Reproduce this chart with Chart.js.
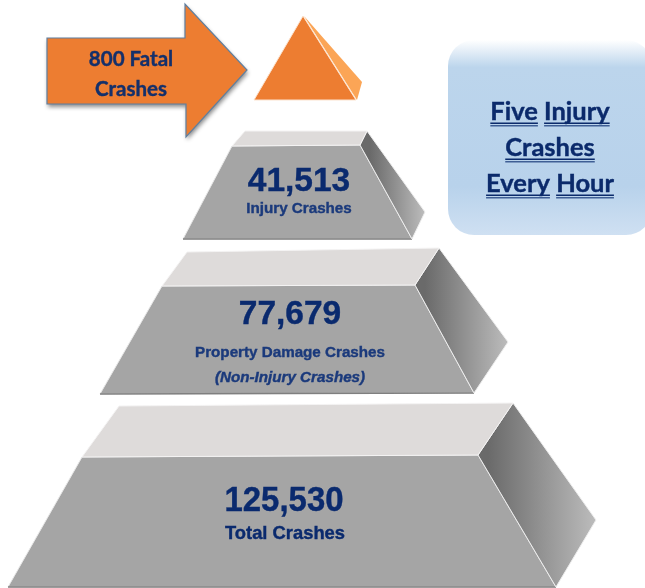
<!DOCTYPE html>
<html>
<head>
<meta charset="utf-8">
<title>Crash pyramid</title>
<script src="https://cdn.jsdelivr.net/npm/chart.js@4"></script>
<style>
    html, body { margin: 0; padding: 0; background: #fff; overflow: hidden; }
    canvas { display: block; }
</style>
</head>
<body>
<canvas id="pyramidChart" width="645" height="588"></canvas>
<script>
// Crash counts, top of the pyramid first
const categories = ['Fatal Crashes', 'Injury Crashes', 'Property Damage Crashes', 'Total Crashes'];
const crashCounts = [800, 41513, 77679, 125530];
const subNote = '(Non-Injury Crashes)';
const calloutLines = [['Five', 'Injury'], ['Crashes'], ['Every', 'Hour']];

// Outlines in picture units, the axes below run 0-645 and 588-0
const arrowOutline = [[47, 38], [185, 38], [185, 4], [247, 70], [186, 137], [186, 104], [47, 104]];
const calloutOutline = [[448, 40], [652, 40], [652, 235], [448, 235]];
const fatalFront = [[303, 16], [356, 100], [254, 100]];
const fatalSide = [[304, 16], [362, 82], [357, 100]];
const injuryTop = [[245, 131], [367, 131], [360, 145], [232, 146]];
const injuryFront = [[232, 146], [360, 145], [412, 239], [183, 239]];
const injurySide = [[367, 131], [425, 212], [412, 239], [360, 145]];
const propertyTop = [[187, 252], [439, 248], [415, 285], [162, 286]];
const propertyFront = [[162, 286], [415, 285], [474, 393], [100, 394]];
const propertySide = [[439, 248], [508, 342], [474, 393], [415, 285]];
const totalTop = [[119, 406], [513, 403], [478, 455], [82, 457]];
const totalFront = [[82, 457], [478, 455], [556, 587], [8, 587]];
const totalSide = [[513, 403], [596, 520], [556, 587], [478, 455]];

const GREY_SIDE = ['#6a6a6a', '#bcbcbc'];

function shape(points, style) {
    return Object.assign({
        data: points.map(p => ({ x: p[0], y: p[1] })),
        showLine: false,
        pointRadius: 0,
        clip: false
    }, style);
}

function topFace(points) {
    return shape(points, { polyFill: '#dedbda', seam: '#f4f3f3' });
}
function frontFace(points) {
    return shape(points, { polyFill: '#a5a5a5', seam: '#e8e8e8', baseLine: '#7f7f7f' });
}
function sideFace(points) {
    return shape(points, { polyGradient: GREY_SIDE, seam: '#ededed' });
}

// Fills each dataset as a closed polygon from the points the scales placed
const polygonPlugin = {
    id: 'polygons',
    beforeDatasetDraw(chart, args) {
        const ds = chart.data.datasets[args.index];
        const pts = args.meta.data;
        const ctx = chart.ctx;
        ctx.save();
        ctx.beginPath();
        if (ds.cornerRadius) {
            const n = pts.length;
            ctx.moveTo((pts[0].x + pts[n - 1].x) / 2, (pts[0].y + pts[n - 1].y) / 2);
            for (let i = 0; i < n; i++) {
                const next = pts[(i + 1) % n];
                ctx.arcTo(pts[i].x, pts[i].y, next.x, next.y, ds.cornerRadius);
            }
        } else {
            pts.forEach((p, i) => i ? ctx.lineTo(p.x, p.y) : ctx.moveTo(p.x, p.y));
        }
        ctx.closePath();

        if (ds.polyGradient) {
            const xs = pts.map(p => p.x);
            const g = ctx.createLinearGradient(Math.min(...xs) + 10, 0, Math.max(...xs), 0);
            g.addColorStop(0, ds.polyGradient[0]);
            g.addColorStop(1, ds.polyGradient[1]);
            ctx.fillStyle = g;
        } else if (ds.verticalStops) {
            const ys = pts.map(p => p.y);
            const top = Math.min(...ys), bottom = Math.max(...ys);
            const g = ctx.createLinearGradient(0, top, 0, bottom);
            ds.verticalStops.forEach(s => g.addColorStop(s[0], s[1]));
            ctx.fillStyle = g;
        } else {
            ctx.fillStyle = ds.polyFill;
        }
        if (ds.shadow) {
            ctx.shadowColor = ds.shadow;
            ctx.shadowBlur = 4;
            ctx.shadowOffsetX = 1;
            ctx.shadowOffsetY = 3;
        }
        ctx.fill();
        ctx.shadowColor = 'transparent';
        if (ds.seam) {
            ctx.strokeStyle = ds.seam;
            ctx.lineWidth = ds.seamWidth || 1;
            ctx.stroke();
        }
        if (ds.baseLine) {
            const a = pts[pts.length - 2], b = pts[pts.length - 1];
            ctx.beginPath();
            ctx.moveTo(a.x, a.y);
            ctx.lineTo(b.x, b.y);
            ctx.strokeStyle = ds.baseLine;
            ctx.lineWidth = 1.5;
            ctx.stroke();
        }
        ctx.restore();
    }
};

// Text sits on the same scales as the shapes
const textPlugin = {
    id: 'labels',
    afterDatasetsDraw(chart) {
        const ctx = chart.ctx;
        const xs = chart.scales.x, ys = chart.scales.y;
        const NAVY = '#0a2a6e';
        const ARIAL = '"Liberation Sans", Arial, sans-serif';
        const CALIBRI = 'Lato, Carlito, sans-serif';

        function label(text, x, y, font, color, width) {
            ctx.font = font;
            ctx.fillStyle = color;
            ctx.strokeStyle = color;
            ctx.lineWidth = 0.4;
            ctx.textAlign = 'center';
            ctx.textBaseline = 'alphabetic';
            ctx.fillText(text, xs.getPixelForValue(x), ys.getPixelForValue(y), width);
            ctx.strokeText(text, xs.getPixelForValue(x), ys.getPixelForValue(y), width);
        }

        ctx.save();
        // arrow
        label(crashCounts[0] + ' Fatal', 131, 66, 'bold 20.5px ' + CALIBRI, '#14306b');
        label('Crashes', 131, 96, 'bold 20.5px ' + CALIBRI, '#14306b');

        // pyramid levels
        label(crashCounts[1].toLocaleString('en-US'), 299, 191, 'bold 33.5px ' + ARIAL, NAVY);
        label(categories[1], 299, 213, 'bold 15.2px ' + ARIAL, '#1b3a7c');
        label(crashCounts[2].toLocaleString('en-US'), 290, 324, 'bold 33.5px ' + ARIAL, NAVY);
        label(categories[2], 290, 357, 'bold 15.2px ' + ARIAL, '#1b3a7c');
        label(subNote, 290, 382, 'italic bold 15.2px ' + ARIAL, '#1b3a7c');
        label(crashCounts[3].toLocaleString('en-US'), 284, 511, 'bold 35px ' + ARIAL, NAVY, 119);
        label(categories[3], 285, 539, 'bold 19px ' + ARIAL, NAVY, 120);

        // callout, every word gets its own double underline
        const lineBaselines = [120, 156, 192];
        ctx.font = 'bold 25.5px ' + CALIBRI;
        ctx.textAlign = 'left';
        ctx.textBaseline = 'alphabetic';
        ctx.lineWidth = 0.4;
        ctx.strokeStyle = '#0b2a6b';
        calloutLines.forEach((words, row) => {
            const gap = ctx.measureText(' ').width;
            const total = words.reduce((sum, w) => sum + ctx.measureText(w).width, 0) + gap * (words.length - 1);
            let x = xs.getPixelForValue(550) - total / 2;
            const y = ys.getPixelForValue(lineBaselines[row]);
            words.forEach(word => {
                const w = ctx.measureText(word).width;
                ctx.fillStyle = '#0b2a6b';
                ctx.fillText(word, x, y);
                ctx.strokeText(word, x, y);
                ctx.fillRect(x, y + 2.5, w, 1.5);
                ctx.fillStyle = '#3f5f95';
                ctx.fillRect(x, y + 5, w, 1.5);
                x += w + gap;
            });
        });
        ctx.restore();
    }
};

const pyramidCtx = document.getElementById('pyramidChart').getContext('2d');
const pyramidChart = new Chart(pyramidCtx, {
    type: 'scatter',
    data: {
        datasets: [
            shape(calloutOutline, {
                cornerRadius: 26,
                verticalStops: [[0, '#ffffff'], [0.14, '#bcd5ec'], [0.75, '#b8d2eb'], [1, '#cfe0f2']]
            }),
            shape(arrowOutline, { polyFill: '#ed7d31', seam: '#5f7f9f', seamWidth: 1.2, shadow: 'rgba(0,0,0,0.45)' }),
            shape(fatalSide, { polyFill: '#fba556' }),
            shape(fatalFront, { polyFill: '#ed7d31', seam: '#fbe3cf' }),
            topFace(injuryTop), sideFace(injurySide), frontFace(injuryFront),
            topFace(propertyTop), sideFace(propertySide), frontFace(propertyFront),
            topFace(totalTop), sideFace(totalSide), frontFace(totalFront)
        ]
    },
    options: {
        responsive: false,
        animation: false,
        layout: { padding: 0 },
        plugins: { legend: { display: false }, tooltip: { enabled: false } },
        scales: {
            x: { type: 'linear', min: 0, max: 645, display: false },
            y: { type: 'linear', min: 0, max: 588, reverse: true, display: false }
        }
    },
    plugins: [polygonPlugin, textPlugin]
});
</script>
</body>
</html>
